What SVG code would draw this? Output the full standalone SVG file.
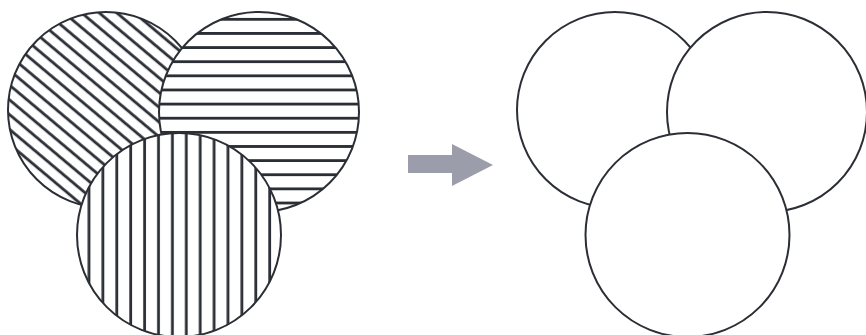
<svg xmlns="http://www.w3.org/2000/svg" width="866" height="335" viewBox="0 0 866 335">
  <style>
    .ring { fill: none; stroke: #2b2f35; stroke-width: 2; }
    .plain { fill: #ffffff; stroke: #2b2f35; stroke-width: 2; }
    .hatch { stroke: #2b2f35; stroke-width: 2.8; }
  </style>
  <defs>
    <pattern id="diag" patternUnits="userSpaceOnUse" width="40" height="11.3" patternTransform="rotate(40)">
      <rect width="40" height="11.3" fill="#ffffff"/>
      <line class="hatch" x1="0" y1="2.5" x2="40" y2="2.5"/>
    </pattern>
    <pattern id="horiz" patternUnits="userSpaceOnUse" width="40" height="14.13">
      <rect width="40" height="14.13" fill="#ffffff"/>
      <line class="hatch" x1="0" y1="5.2" x2="40" y2="5.2"/>
    </pattern>
    <pattern id="vert" patternUnits="userSpaceOnUse" width="13.9" height="40">
      <rect width="13.9" height="40" fill="#ffffff"/>
      <line class="hatch" x1="5.6" y1="0" x2="5.6" y2="40"/>
    </pattern>
  </defs>
  <rect width="866" height="335" fill="#ffffff"/>

  <g id="left-group">
    <g id="circle-diagonal">
      <circle cx="106" cy="110" r="98" fill="url(#diag)"/>
      <circle class="ring" cx="106" cy="110" r="98"/>
    </g>
    <g id="circle-horizontal">
      <circle cx="259" cy="112" r="100" fill="url(#horiz)"/>
      <circle class="ring" cx="259" cy="112" r="100"/>
    </g>
    <g id="circle-vertical">
      <circle cx="179" cy="235" r="102" fill="url(#vert)"/>
      <circle class="ring" cx="179" cy="235" r="102"/>
    </g>
  </g>

  <g id="connectors">
    <polygon id="arrow" points="408,155 452,155 452,144 493,165 452,186 452,173 408,173" fill="#9c9dab"/>
  </g>

  <g id="right-group">
    <g id="circle-left-plain">
      <circle class="plain" cx="615" cy="110" r="98"/>
    </g>
    <g id="circle-right-plain">
      <circle class="plain" cx="767" cy="112" r="100"/>
    </g>
    <g id="circle-bottom-plain">
      <circle class="plain" cx="687.5" cy="235" r="102"/>
    </g>
  </g>
</svg>
